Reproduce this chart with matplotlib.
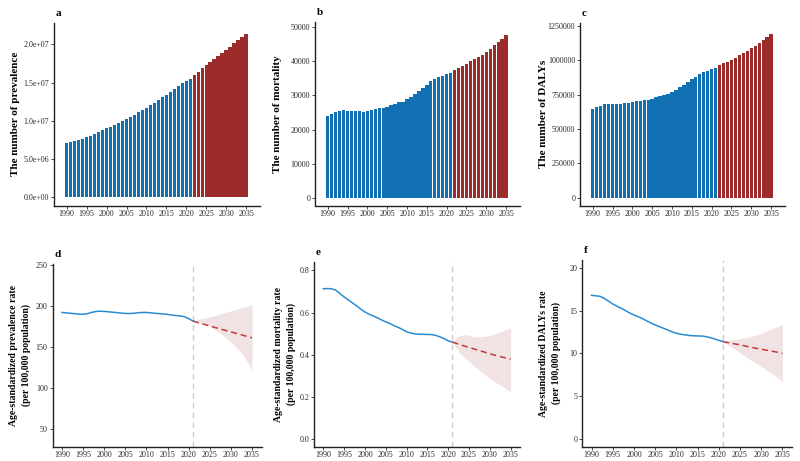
import numpy as np
import matplotlib
matplotlib.use("Agg")
import matplotlib.pyplot as plt

plt.rcParams['font.family'] = ['Liberation Serif', 'DejaVu Serif']

years = np.arange(1990, 2036)
hist_years = np.arange(1990, 2022)
fc_years = np.arange(2021, 2036)

prevalence = [7.06e6, 7.19e6, 7.32e6, 7.49e6, 7.67e6, 7.84e6, 8.02e6, 8.28e6, 8.50e6, 8.80e6,
              9.06e6, 9.24e6, 9.46e6, 9.67e6, 9.93e6, 10.2e6, 10.46e6, 10.76e6, 11.11e6, 11.42e6,
              11.72e6, 12.03e6, 12.37e6, 12.72e6, 13.07e6, 13.38e6, 13.73e6, 14.12e6, 14.55e6, 14.99e6,
              15.25e6, 15.42e6, 15.99e6, 16.43e6, 16.86e6, 17.26e6, 17.69e6, 18.08e6, 18.47e6, 18.91e6,
              19.30e6, 19.69e6, 20.13e6, 20.52e6, 20.92e6, 21.35e6]
mortality = [23980, 24560, 25050, 25530, 25630, 25440, 25440, 25530, 25530, 25240,
             25440, 25730, 26020, 26210, 26210, 26700, 27090, 27570, 27960, 28150,
             28830, 29610, 30390, 31360, 32330, 33200, 34170, 34950, 35440, 35820,
             36210, 36600, 37570, 38060, 38640, 39320, 40000, 40580, 41160, 41940,
             42720, 43690, 44660, 45530, 46500, 47670]
dalys = [646700, 658800, 670800, 680500, 682900, 680500, 680500, 682900, 687700, 690200,
         695000, 702200, 707000, 711900, 711900, 719100, 731200, 740800, 748100, 755300,
         769800, 784300, 803600, 822900, 844600, 863900, 880800, 900100, 912200, 924200,
         933900, 943500, 965300, 977300, 991800, 1006300, 1020800, 1037600, 1052100, 1069000,
         1088300, 1105200, 1126900, 1146200, 1170400, 1194500]

asr_prev = [192.0, 191.5, 191.0, 190.5, 190.0, 189.8, 190.5, 192.0, 193.2, 193.5,
            193.3, 192.8, 192.3, 191.8, 191.2, 190.8, 190.7, 191.0, 191.6, 192.0,
            192.0, 191.5, 191.0, 190.6, 190.2, 189.6, 188.8, 188.2, 187.8, 186.8,
            184.5, 181.5]
asr_prev_fc = [181.5, 180.0, 178.5, 177.0, 175.5, 174.1, 172.7, 171.2, 169.8, 168.3,
               166.9, 165.5, 164.0, 162.6, 161.1]
asr_prev_up = [182.0, 183.5, 184.5, 185.5, 186.5, 188.0, 189.5, 191.0, 192.5, 194.0,
               195.5, 197.0, 198.5, 200.0, 202.0]
asr_prev_lo = [181.0, 180.0, 178.5, 177.0, 175.0, 172.0, 168.5, 164.5, 160.5, 156.0,
               151.0, 145.5, 139.0, 131.0, 121.0]

asr_mort = [0.713, 0.714, 0.713, 0.706, 0.690, 0.674, 0.660, 0.646, 0.632, 0.616,
            0.603, 0.592, 0.584, 0.575, 0.565, 0.556, 0.548, 0.538, 0.530, 0.520,
            0.509, 0.503, 0.499, 0.497, 0.497, 0.496, 0.496, 0.492, 0.485, 0.477,
            0.466, 0.460]
asr_mort_fc = [0.460, 0.454, 0.447, 0.441, 0.435, 0.429, 0.423, 0.417, 0.411, 0.405,
               0.399, 0.394, 0.389, 0.384, 0.379]
asr_mort_up = [0.460, 0.483, 0.492, 0.495, 0.493, 0.487, 0.485, 0.486, 0.488, 0.492,
               0.498, 0.505, 0.512, 0.520, 0.526]
asr_mort_lo = [0.460, 0.430, 0.405, 0.385, 0.368, 0.352, 0.335, 0.318, 0.303, 0.288,
               0.275, 0.262, 0.250, 0.237, 0.225]

asr_daly = [16.78, 16.72, 16.66, 16.43, 16.10, 15.77, 15.50, 15.26, 15.00, 14.72,
            14.49, 14.28, 14.06, 13.80, 13.55, 13.32, 13.12, 12.93, 12.72, 12.52,
            12.35, 12.24, 12.16, 12.10, 12.06, 12.04, 12.03, 11.96, 11.84, 11.69,
            11.52, 11.38]
asr_daly_fc = [11.38, 11.28, 11.18, 11.09, 11.00, 10.89, 10.78, 10.68, 10.58, 10.49,
               10.40, 10.31, 10.22, 10.12, 10.02]
asr_daly_up = [11.38, 11.50, 11.58, 11.65, 11.72, 11.80, 11.90, 12.02, 12.17, 12.35,
               12.55, 12.75, 12.97, 13.18, 13.40]
asr_daly_lo = [11.38, 11.05, 10.75, 10.40, 10.05, 9.72, 9.40, 9.10, 8.78, 8.47,
               8.15, 7.80, 7.45, 7.10, 6.72]

BLUE_BAR = "#1170b2"
RED_BAR = "#9c2b2b"
BLUE_LINE = "#2a8bd2"
RED_LINE = "#c0393c"
RIBBON = "#f1e3e3"

W, H = 800, 461
fig = plt.figure(figsize=(W / 100, H / 100), dpi=100)


def px_axes(left, top, right, bottom):
    return fig.add_axes([left / W, 1 - bottom / H, (right - left) / W, (bottom - top) / H])


def style(ax, letter, ylabel, labx, labsize=8):
    for s in ("top", "right"):
        ax.spines[s].set_visible(False)
    for s in ("left", "bottom"):
        ax.spines[s].set_linewidth(1.0)
        ax.spines[s].set_color("#222222")
    ax.tick_params(labelsize=5.8, length=2, width=0.6, pad=1.5, colors="#2a2a2a")
    ax.set_xticks(np.arange(1990, 2036, 5))
    ax.set_ylabel(ylabel, fontsize=labsize, fontweight="bold", linespacing=1.45)
    ax.yaxis.set_label_coords(labx, 0.5)
    ax.set_title(letter, loc="left", fontsize=8, fontweight="bold", x=0.01, pad=5)


def bar_panel(ax, vals, ylim, yticks, ylabels):
    vals = np.array(vals)
    hist = years <= 2021
    ax.bar(years[hist], vals[hist], width=0.85, color=BLUE_BAR, linewidth=0)
    ax.bar(years[~hist], vals[~hist], width=0.85, color=RED_BAR, linewidth=0)
    ax.set_xlim(1986.8, 2038.5)
    ax.set_ylim(*ylim)
    ax.set_yticks(yticks)
    ax.set_yticklabels(ylabels)


def line_panel(ax, hist, fc, up, lo, ylim, yticks):
    ax.fill_between(fc_years, lo, up, color=RIBBON, linewidth=0)
    ax.axvline(2021, color="#cccccc", linestyle=(0, (4, 3)), linewidth=1.0)
    ax.plot(hist_years, hist, color=BLUE_LINE, linewidth=1.1)
    ax.plot(fc_years, fc, color=RED_LINE, linewidth=1.1, linestyle=(0, (4, 2.5)))
    ax.set_xlim(1987.75, 2037.25)
    ax.set_ylim(*ylim)
    ax.set_yticks(yticks)


ax_a = px_axes(54, 23, 260, 205.5)
bar_panel(ax_a, prevalence, (-1.07e6, 2.28e7), [0, 5e6, 1e7, 1.5e7, 2e7],
          ["0.0e+00", "5.0e+06", "1.0e+07", "1.5e+07", "2.0e+07"])
style(ax_a, "a", "The number of prevalence", -0.165)

ax_b = px_axes(315, 22, 520, 205.5)
bar_panel(ax_b, mortality, (-2200, 51500), np.arange(0, 50001, 10000),
          [str(v) for v in range(0, 50001, 10000)])
style(ax_b, "b", "The number of mortality", -0.16)

ax_c = px_axes(580, 23, 785, 205.5)
bar_panel(ax_c, dalys, (-56000, 1.272e6), np.arange(0, 1250001, 250000),
          [str(v) for v in range(0, 1250001, 250000)])
style(ax_c, "c", "The number of DALYs", -0.156)

ax_d = px_axes(52.5, 264, 261.5, 446.5)
line_panel(ax_d, asr_prev, asr_prev_fc, asr_prev_up, asr_prev_lo, (28.8, 251), [50, 100, 150, 200, 250])
style(ax_d, "d", "Age-standardized prevalence rate\n(per 100,000 population)", -0.103, 7.0)

ax_e = px_axes(314, 262, 520, 446.5)
line_panel(ax_e, asr_mort, asr_mort_fc, asr_mort_up, asr_mort_lo, (-0.035, 0.84), [0.0, 0.2, 0.4, 0.6, 0.8])
style(ax_e, "e", "Age-standardized mortality rate\n(per 100,000 population)", -0.087, 7.0)

ax_f = px_axes(582, 260, 792, 446.5)
line_panel(ax_f, asr_daly, asr_daly_fc, asr_daly_up, asr_daly_lo, (-0.86, 20.9), [0, 5, 10, 15, 20])
style(ax_f, "f", "Age-standardized DALYs rate\n(per 100,000 population)", -0.1, 7.0)

fig.savefig("out.png", dpi=100)
